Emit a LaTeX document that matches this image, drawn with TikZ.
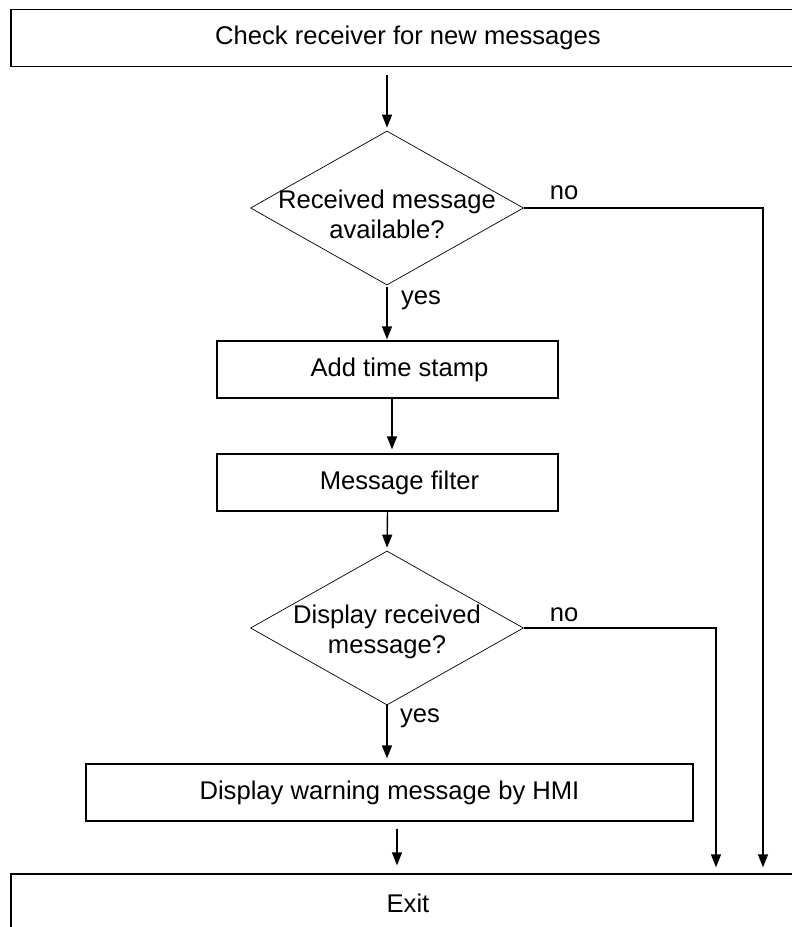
\documentclass[tikz,border=0pt]{standalone}
\usepackage{fontspec}
\setmainfont{Liberation Sans}
\usetikzlibrary{shapes.geometric,arrows.meta}
\begin{document}
\begin{tikzpicture}[x=1pt,y=-1pt,
  font=\fontsize{25.6pt}{30pt}\selectfont,
  box/.style={draw, line width=1.3pt, minimum height=57pt, inner sep=0pt},
  dec/.style={diamond, draw, line width=0.7pt, minimum width=273pt, minimum height=154pt, inner sep=0pt},
  arr/.style={-{Triangle[length=13pt,width=10pt]}, line width=1.4pt},
  txt/.style={inner sep=0pt}]
\clip (0,0) rectangle (792,927);
\fill[white] (0,0) rectangle (792,927);

\node[box, minimum width=794pt] (top) at (408,38) {Check receiver for new messages};
\node[dec, label={[align=center, yshift=-6pt]center:Received message\\available?}] (d1) at (387,208) {};
\node[box, minimum width=341pt, label={[xshift=12pt]center:Add time stamp}] (b1) at (387.5,369.5) {};
\node[box, minimum width=341pt, label={[xshift=12pt]center:Message filter}] (b2) at (387.5,482.5) {};
\node[dec, label={[align=center, yshift=-4pt]center:Display received\\message?}] (d2) at (387,628) {};
\node[box, minimum width=607pt] (hmi) at (389.5,792.5) {Display warning message by HMI};
\node[box, minimum width=794pt, minimum height=58pt] (exit) at (408,903) {Exit};

\node[txt] (no1) at (564,193) {no};
\node[txt] (no2) at (564,615) {no};
\node[txt] (yes1) at (421,300) {yes};
\node[txt] (yes2) at (420,718) {yes};

\draw[arr, shorten <=8pt, shorten >=3pt] (d1.north |- top.south) -- (d1.north);
\draw[arr, shorten <=2pt, shorten >=1pt] (d1.south) -- (d1.south |- b1.north);
\draw[arr, shorten >=4pt] ([xshift=4.5pt]b1.south) -- ([xshift=4.5pt]b1.south |- b2.north);
\draw[arr, shorten >=3pt] (b2.south) -- (d2.north);
\draw[arr, shorten >=5pt] (d2.south) -- (d2.south |- hmi.north);
\draw[arr, shorten <=7pt, shorten >=8pt] ([xshift=7.5pt]hmi.south) -- ([xshift=7.5pt]hmi.south |- exit.north);
\draw[arr, shorten >=6pt] (d1.east) -| ([xshift=355pt]exit.north);
\draw[arr, shorten >=6pt] (d2.east) -| ([xshift=308pt]exit.north);
\end{tikzpicture}
\end{document}
